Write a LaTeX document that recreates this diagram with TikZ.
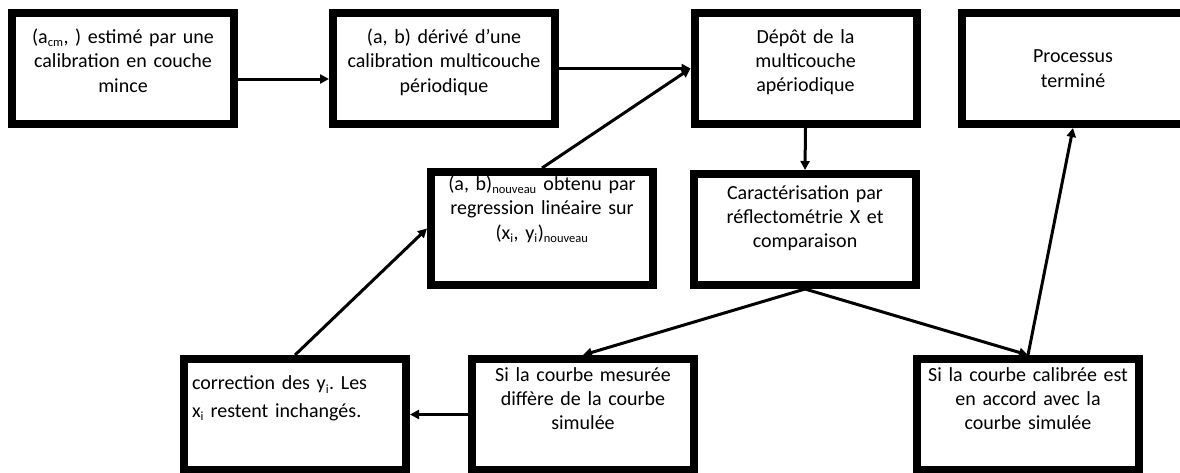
\documentclass[tikz,border=0pt]{standalone}
\usepackage{fontspec}
\setmainfont{Carlito}
\usetikzlibrary{arrows.meta}
\frenchspacing
\newcommand{\ind}[1]{\textsubscript{\fontsize{12.5}{13}\selectfont #1}}
\tikzset{
  etape/.style={draw,line width=8pt,outer sep=4pt,minimum width=222pt,minimum height=111pt,
    text width=206pt,inner xsep=8pt,align=center},
  fleche/.style={line width=3pt,-{Triangle[length=9pt,width=9pt]}}
}
\begin{document}
\begin{tikzpicture}[x=1pt,y=-1pt,font=\fontsize{20}{24.4}\selectfont]
	\useasboundingbox (0,0) rectangle (1180,472);
	\clip (0,0) rectangle (1180,472);
	% ligne du haut
	\node[etape] (couchemince) at (123,68.5) {(a\ind{cm}, ) estimé par une\\calibration en couche\\mince\\[-16pt]\strut};
	\node[etape] (periodique) at (444,68.5) {(a, b) dérivé d’une\\calibration multicouche\\périodique\\[-16pt]\strut};
	\node[etape] (depot) at (805.5,68.5) {Dépôt de la\\multicouche\\apériodique\\[-16pt]\strut};
	\node[etape] (termine) at (1073,68.5) {Processus\\terminé};
	% ligne du milieu
	\node[etape,minimum height=113pt] (regression) at (542,228.5) {(a, b)\ind{nouveau} obtenu par\\regression linéaire sur\\(x\ind{i}, y\ind{i})\ind{nouveau}\\[10pt]\strut};
	\node[etape] (caract) at (805,229.5) {Caractérisation par\\réflectométrie X et\\comparaison\\[-6pt]\strut};
	% ligne du bas
	\node[etape,align=left] (correction) at (295,414.5) {correction des y\ind{i}. Les\\[3pt]x\ind{i} restent inchangés.\\[4pt]\strut};
	\node[etape] (mesuree) at (583,414.5) {Si la courbe mesurée\\diffère de la courbe\\simulée\\ \strut};
	\node[etape] (calibree) at (1028,414.5) {Si la courbe calibrée est\\en accord avec la\\courbe simulée\\ \strut};
	% fleches
	\draw[fleche] ([yshift=-10.5pt]couchemince.east) -- ([yshift=-10.5pt]periodique.west);
	\draw[fleche] (periodique.east) -- (depot.west);
	\draw[fleche] (depot.south) -- (caract.north);
	\draw[fleche] (caract.south) -- (mesuree.north);
	\draw[fleche] (caract.south) -- (calibree.north);
	\draw[fleche] (calibree.north) -- (termine.south);
	\draw[fleche] (mesuree.west) -- (correction.east);
	\draw[fleche] (correction.north) -- (regression.west);
	\draw[fleche] (regression.north) -- (depot.west);
\end{tikzpicture}
\end{document}
